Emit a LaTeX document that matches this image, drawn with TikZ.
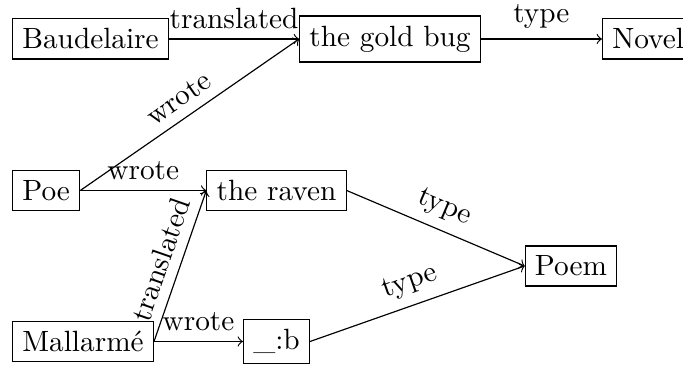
\documentclass[tikz,border=0pt]{standalone}
\usepackage{fontspec}
\usepackage{tikz}

\tikzset{res/.style = {draw, rectangle}}

\begin{document}
\begin{tikzpicture}[x = 0.12mm, y = 0.12mm]
		\useasboundingbox (0, 0) rectangle (683, 365);
		\node[res, anchor = west] (bau) at (12, 326) {Baudelaire};
		\node[res] (bug) at (390, 326) {the gold bug};
		\node[res, anchor = west] (novel) at (602, 326) {Novel};
		\node[res, anchor = west] (poe) at (12, 174.5) {Poe};
		\node[res] (raven) at (276.5, 174.5) {the raven};
		\node[res] (poem) at (571, 99) {Poem};
		\node[res, anchor = west] (mal) at (12, 23.5) {Mallarmé};
		\node[res] (b) at (276.5, 23.5) {\_:b};
		\draw[->] (bau) -- (bug) node[midway, above]{translated};
		\draw[->] (bug) -- (novel) node[midway, above]{type};
		\draw[->] (poe.east) -- (bug.west) node[midway, above, sloped]{wrote};
		\draw[->] (poe) -- (raven) node[midway, above]{wrote};
		\draw[->] (mal.east) -- (raven.west) node[midway, above, sloped]{translated};
		\draw[->] (mal) -- (b) node[midway, above]{wrote};
		\foreach \s in {raven, b}
			\draw[->] (\s.east) -- (poem.west) node[midway, above, sloped]{type};
	\end{tikzpicture}
\end{document}
